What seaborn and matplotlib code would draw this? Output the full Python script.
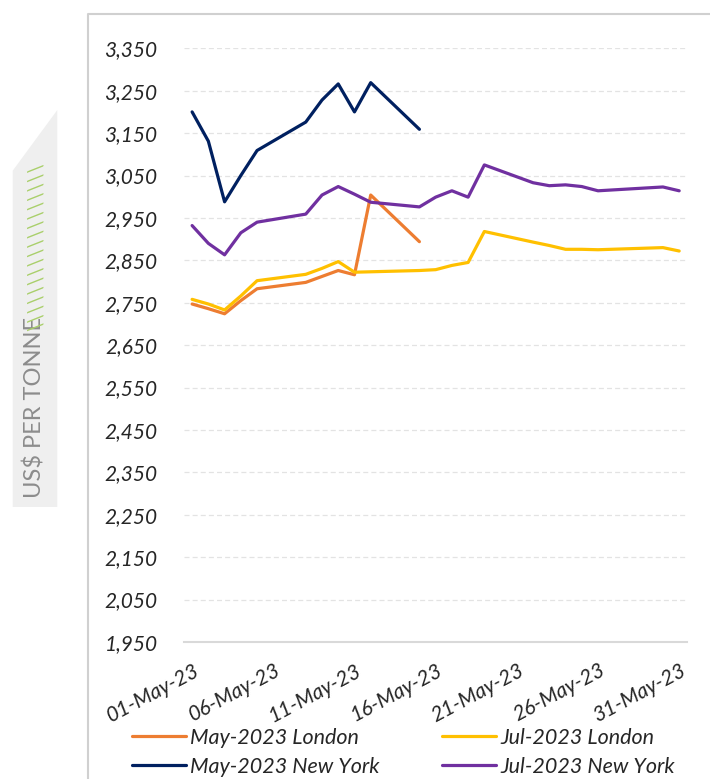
import pandas as pd
import seaborn as sns
import matplotlib.pyplot as plt
import matplotlib.transforms as mtransforms
from matplotlib.patches import Polygon
from matplotlib.lines import Line2D

# trading days shown in the chart
may_days = ['2023-05-01', '2023-05-02', '2023-05-03', '2023-05-04', '2023-05-05',
            '2023-05-08', '2023-05-09', '2023-05-10', '2023-05-11', '2023-05-12',
            '2023-05-15']
jul_days = may_days + ['2023-05-16', '2023-05-17', '2023-05-18', '2023-05-19',
                       '2023-05-22', '2023-05-23', '2023-05-24', '2023-05-25', '2023-05-26',
                       '2023-05-30', '2023-05-31']

may_london = [2747, 2736, 2724, 2755, 2783, 2798, 2812, 2826, 2816, 3004, 2894]
may_newyork = [3200, 3131, 2988, 3050, 3109, 3176, 3228, 3266, 3200, 3269, 3159]
jul_london = [2758, 2747, 2733, 2766, 2802, 2817, 2831, 2847, 2822, 2823, 2826,
              2828, 2838, 2845, 2918, 2893, 2885, 2876, 2876, 2875, 2880, 2872]
jul_newyork = [2932, 2890, 2863, 2915, 2940, 2959, 3004, 3024, 3006, 2987, 2976,
               2999, 3014, 2999, 3075, 3033, 3026, 3028, 3024, 3014, 3023, 3014]

series_names = ['May-2023 London', 'May-2023 New York', 'Jul-2023 London', 'Jul-2023 New York']
series_colors = ['#ED7D31', '#002060', '#FFC000', '#7030A0']

tick_days = ['2023-05-01', '2023-05-06', '2023-05-11', '2023-05-16',
             '2023-05-21', '2023-05-26', '2023-05-31']
y_ticks = list(range(1950, 3351, 100))

frames = []
for name, days, vals in [(series_names[0], may_days, may_london),
                         (series_names[1], may_days, may_newyork),
                         (series_names[2], jul_days, jul_london),
                         (series_names[3], jul_days, jul_newyork)]:
    frames.append(pd.DataFrame({'date': pd.to_datetime(days), 'price': vals, 'series': name}))
df = pd.concat(frames, ignore_index=True)

sns.set_theme(style='white')
plt.rcParams['font.family'] = ['Lato', 'DejaVu Sans']

W, H = 710, 779
fig = plt.figure(figsize=(W / 100, H / 100), dpi=100)
ax = fig.add_axes([184 / W, (H - 642) / H, (687.3 - 184) / W, (642 - 48.3) / H])

sns.lineplot(data=df, x='date', y='price', hue='series', hue_order=series_names,
             palette=series_colors, linewidth=2.3, ax=ax, legend=False)

half_day = pd.Timedelta(hours=12)
ax.set_xlim(pd.Timestamp('2023-05-01') - half_day, pd.Timestamp('2023-06-01') - half_day)
ax.set_ylim(1950, 3350)

ax.set_yticks(y_ticks)
ax.set_yticklabels([f'{v:,}' for v in y_ticks], fontstyle='italic', fontsize=15, color='#262626')
ax.tick_params(axis='y', length=0, pad=19)

ticks = [pd.Timestamp(d) - half_day for d in tick_days]
ax.set_xticks(ticks)
ax.set_xticklabels([pd.Timestamp(d).strftime('%d-%b-%y') for d in tick_days],
                   rotation=28, ha='right', va='top', rotation_mode='anchor',
                   fontstyle='italic', fontsize=15, color='#262626')
ax.tick_params(axis='x', length=5, width=1.2, color='#D9D9D9', direction='out', pad=8)
offset = mtransforms.ScaledTranslation(9 / 100, 0, fig.dpi_scale_trans)
for lab in ax.get_xticklabels():
    lab.set_transform(lab.get_transform() + offset)

ax.set_xlabel('')
ax.set_ylabel('')
for s in ['top', 'right', 'left']:
    ax.spines[s].set_visible(False)
ax.spines['bottom'].set_color('#D9D9D9')
ax.spines['bottom'].set_linewidth(1.5)
ax.yaxis.grid(True, color='#E3E3E3', linewidth=0.9, linestyle=(0, (4, 2.5)))
ax.xaxis.grid(False)

# legend below the chart
handles = [Line2D([], [], color=c, linewidth=2.3) for c in series_colors]
fig.legend(handles, series_names, ncol=2, loc='upper left',
           bbox_to_anchor=(132 / W, (H - 728) / H), frameon=False,
           prop={'style': 'italic', 'size': 15.5}, handlelength=2.5, handletextpad=0.2,
           columnspacing=2.9, labelspacing=0.4, borderpad=0, borderaxespad=0)

# outer frame lines
fig.add_artist(Line2D([88 / W, 88 / W, 1], [0, (H - 14) / H, (H - 14) / H],
                      color='#D0D0D0', linewidth=1.5, transform=fig.transFigure))

# y-axis label panel
panel = Polygon([(12.7 / W, (H - 170.7) / H), (57.3 / W, (H - 110) / H),
                 (57.3 / W, (H - 507) / H), (12.7 / W, (H - 507) / H)],
                closed=True, transform=fig.transFigure, facecolor='#EFEFEF', edgecolor='none')
fig.add_artist(panel)
fig.text(35 / W, (H - 498) / H, 'US$ PER TONNE', rotation=90, ha='center', va='bottom',
         fontsize=17, color='#8C8C8C', fontweight='normal')
fig.text(37 / W, (H - 331) / H, '\\' * 18, rotation=90, ha='center', va='bottom',
         fontsize=15, color='#A9CF6A', fontweight='normal')

fig.savefig('out.png', dpi=100)
